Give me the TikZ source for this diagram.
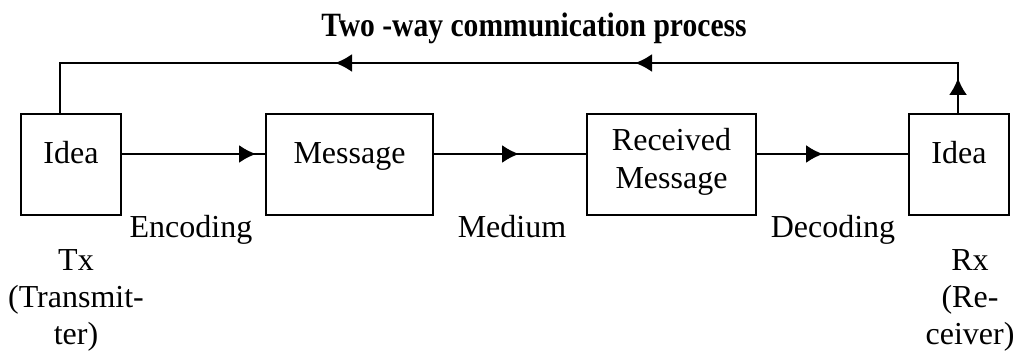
\documentclass[tikz,border=0pt]{standalone}
\usepackage{fontspec}
\setmainfont{Liberation Serif}
\usetikzlibrary{arrows.meta,decorations.markings}
\tikzset{headtip/.tip={Latex[length=8.5pt,width=9pt]}}

\begin{document}
\begin{tikzpicture}[x=0.5pt,y=0.5pt,
  block/.style={draw,line width=1pt,inner sep=0pt,minimum height=50.5pt,align=center,font=\fontsize{16}{19}\selectfont},
  lbl/.style={inner sep=0pt,align=center,font=\fontsize{16}{18.5}\selectfont},
  flow/.style={line width=1pt,postaction={decorate},
    decoration={markings,mark=at position #1 with {\arrow{headtip}}}}]
  \useasboundingbox (0,0) rectangle (1015,353);
  \node[inner sep=0pt,anchor=base] (title) at (534,316)
    {\scalebox{0.87}[1]{\fontsize{17}{20}\selectfont\bfseries Two -way communication process}};
  % blocks
  \node[block,minimum width=50pt,text depth=12pt] (ideatx) at (71,188.5) {Idea};
  \node[block,minimum width=83.5pt,text depth=11pt] (msg) at (349.5,188.5) {Message};
  \node[block,minimum width=84.5pt,text depth=6pt] (recmsg) at (671.5,188.5) {Received\\Message};
  \node[block,minimum width=50pt,text depth=12pt] (idearx) at (959,188.5) {Idea};
  % labels
  \node[lbl,anchor=base] (enc) at (191,115) {Encoding};
  \node[lbl,anchor=base] (med) at (512,115) {Medium};
  \node[lbl,anchor=base] (dec) at (833,115) {Decoding};
  \node[lbl,anchor=north] (tx) at (76,104) {Tx\\(Transmit-\\ter)};
  \node[lbl,anchor=north] (rx) at (970,104) {Rx\\(Re-\\ceiver)};
  % forward path
  \draw[flow=67pt] ([yshift=5.25pt]ideatx.east) -- ([yshift=5.25pt]msg.west);
  \draw[flow=42.5pt] ([yshift=5.25pt]msg.east) -- ([yshift=5.25pt]recmsg.west);
  \draw[flow=33pt] ([yshift=5.25pt]recmsg.east) -- ([yshift=5.25pt]idearx.west);
  % feedback
  \draw[line width=1pt,postaction={decorate},
    decoration={markings,
      mark=at position 17.5pt with {\arrow{headtip}},
      mark=at position 186.5pt with {\arrow{headtip}},
      mark=at position 336.5pt with {\arrow{headtip}}}]
    ([xshift=-0.5pt]idearx.north) -- ++(0,50) -| ([xshift=-5.5pt]ideatx.north);
\end{tikzpicture}
\end{document}
